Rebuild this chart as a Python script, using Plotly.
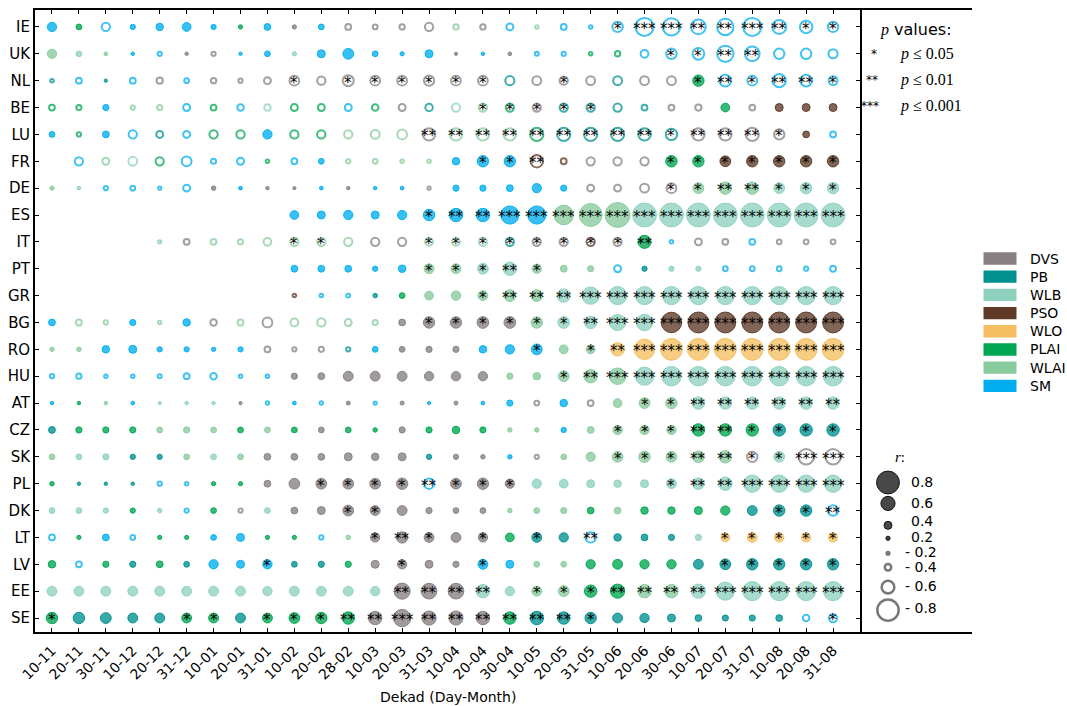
import plotly.graph_objects as go

# ---------------------------------------------------------------- data
countries = ["IE", "UK", "NL", "BE", "LU", "FR", "DE", "ES", "IT", "PT", "GR", "BG",
             "RO", "HU", "AT", "CZ", "SK", "PL", "DK", "LT", "LV", "EE", "SE"]

dekads = ["10-11", "20-11", "30-11", "10-12", "20-12", "31-12", "10-01", "20-01",
          "31-01", "10-02", "20-02", "28-02", "10-03", "20-03", "31-03", "10-04",
          "20-04", "30-04", "10-05", "20-05", "31-05", "10-06", "20-06", "30-06",
          "10-07", "20-07", "31-07", "10-08", "20-08", "31-08"]

variables = ["DVS", "PB", "WLB", "PSO", "WLO", "PLAI", "WLAI", "SM"]
variable_codes = "DPWSOLAM"
variable_colors = ["#877f82", "#00918f", "#8ed1bf", "#5e3a27",
                   "#f3bf60", "#00a651", "#88cb9c", "#00aeef"]

# strongest predictor per country and dekad ('.' = no data)
best_predictor = [
    "MLMMMMMLMD" "MDDDDADMAM" "MMMMMMMMMM",  # IE
    "AWAMMDDMMW" "MMMMMDMDMM" "LLMMMMMMMM",  # UK
    "PMPMDMDDDD" "DDDDDDDPDD" "DPDDLMMMMM",  # NL
    "LLMAAMLMWL" "LMLDPWALDP" "PPPDDLDSSS",  # BE
    "MLMMPMLLML" "LAAADAAALP" "PPPPDDDDSM",  # LU
    ".MAWLMMMLM" "MAAAAMMMSS" "DDDLLSSSSS",  # FR
    "AWMMMMDMDD" "MDMMDMMMMM" "DDDDAAAWWW",  # DE
    ".........M" "MMMMMMMMMA" "AAWWWWWWWW",  # ES
    "....ADAAAA" "AADDAAWPDD" "SDLMDDMDDD",  # IT
    ".........M" "MMMMAAWWAA" "AMPWWMMMMM",  # PT
    ".........S" "MMPLAAAAAW" "WWWWWWWWWW",  # GR
    "MAAMAMDADA" "AAADDDDDAW" "WWWSSSSSSS",  # BG
    "AAMMMMMMDD" "DPMDDDMMMA" "AOOOOOOOOO",  # RO
    "MMMMMMMMMD" "DDDDDDDAAA" "AAWWWWWWWW",  # HU
    "MLAMWWWDMM" "MDMDMDMMDM" "DAAAWWWWWW",  # AT
    "PLLLAAALAL" "DLLDLLLAAM" "AAAALLLPPP",  # CZ
    "AWWPPAWADD" "DDDDPDDMDA" "AAAAAADWDD",  # SK
    "LPPPMMLLDD" "DDDDMDDDWW" "WWWWWWWWWW",  # PL
    "WWWLWMLDWD" "DDDDDDDAAA" "LALLLLPPPM",  # DK
    "MLMMLLMMLL" "MADDDDDLPP" "MPPPWOOOOO",  # LT
    "LMLPLPMMMP" "PLDDDDMMAA" "LLLLPPPPPP",  # LV
    "WWWWWWWWWW" "WWWDDDWWAA" "LLAAWWWWWW",  # EE
    "LPPPPLLPLL" "LLDDDDDLPP" "PPPPPPPPMM",  # SE
]

# correlation coefficient r of the strongest predictor
corr_r = [
    [0.45, 0.3, -0.45, 0.27, 0.38, 0.43, 0.27, 0.2, 0.35, 0.2,
     0.3, -0.35, -0.3, -0.33, -0.45, -0.33, -0.33, -0.4, -0.22, -0.35,
     -0.22, -0.52, -0.72, -0.7, -0.64, -0.68, -0.72, -0.62, -0.58, -0.52],
    [0.45, 0.3, 0.15, 0.12, -0.27, 0.12, -0.27, 0.12, 0.3, 0.2,
     0.4, 0.5, 0.3, 0.2, 0.4, 0.08, 0.12, 0.15, -0.25, -0.27,
     -0.22, -0.33, -0.43, -0.52, -0.56, -0.68, -0.64, -0.52, -0.52, -0.48],
    [-0.22, -0.35, 0.08, -0.35, -0.37, -0.3, -0.33, -0.27, -0.4, -0.5,
     -0.45, -0.54, -0.5, -0.5, -0.52, -0.5, -0.5, -0.48, -0.47, -0.45,
     -0.47, -0.47, -0.47, -0.47, 0.52, -0.56, -0.5, -0.6, -0.56, -0.47],
    [-0.35, -0.32, 0.32, -0.27, -0.32, -0.4, -0.35, -0.38, -0.38, -0.4,
     -0.4, -0.4, -0.38, -0.4, -0.42, -0.45, -0.45, -0.45, -0.45, -0.45,
     -0.45, -0.45, -0.35, -0.35, -0.37, 0.43, -0.35, 0.4, 0.4, 0.4],
    [0.3, -0.27, 0.35, -0.45, -0.4, -0.4, -0.45, -0.45, 0.45, -0.45,
     -0.45, -0.45, -0.47, -0.5, -0.58, -0.58, -0.58, -0.58, -0.6, -0.6,
     -0.6, -0.6, -0.58, -0.55, -0.58, -0.58, -0.6, -0.52, 0.35, -0.35],
    [None, -0.45, -0.4, -0.47, -0.45, -0.5, -0.32, -0.4, -0.22, -0.35,
     0.3, -0.27, -0.3, -0.22, -0.22, 0.38, 0.52, 0.52, -0.58, -0.35,
     -0.45, -0.45, -0.45, 0.52, 0.52, 0.5, 0.52, 0.52, 0.52, 0.52],
    [0.2, 0.15, -0.27, -0.3, -0.2, -0.4, 0.22, 0.15, 0.12, 0.08,
     0.15, 0.12, 0.12, 0.15, -0.2, 0.32, 0.32, 0.35, 0.45, 0.32,
     -0.4, -0.4, -0.47, -0.5, 0.5, 0.55, 0.55, 0.5, 0.52, 0.52],
    [None, None, None, None, None, None, None, None, None, 0.43,
     0.4, 0.45, 0.4, 0.45, 0.52, 0.58, 0.58, 0.7, 0.7, 0.73,
     0.8, 0.84, 0.82, 0.82, 0.82, 0.82, 0.82, 0.82, 0.82, 0.82],
    [None, None, None, None, -0.2, -0.35, -0.35, -0.32, -0.43, -0.45,
     -0.45, -0.45, -0.45, -0.45, -0.43, -0.43, -0.45, -0.45, -0.45, -0.45,
     -0.45, -0.45, 0.57, -0.22, -0.4, -0.35, -0.35, -0.3, -0.3, -0.3],
    [None, None, None, None, None, None, None, None, None, 0.35,
     0.35, 0.35, 0.27, 0.38, 0.47, 0.47, 0.5, 0.58, 0.45, 0.35,
     0.32, -0.4, 0.27, 0.27, 0.27, -0.3, -0.3, -0.3, -0.27, -0.35],
    [None, None, None, None, None, None, None, None, None, -0.22,
     -0.22, -0.25, 0.22, 0.3, 0.43, 0.45, 0.47, 0.53, 0.53, 0.58,
     0.68, 0.7, 0.7, 0.7, 0.7, 0.7, 0.7, 0.7, 0.7, 0.7],
    [0.35, -0.35, -0.27, 0.32, -0.22, 0.38, -0.38, -0.35, -0.5, -0.43,
     -0.45, -0.4, -0.32, 0.35, 0.52, 0.52, 0.53, 0.53, 0.52, 0.53,
     0.55, 0.65, 0.66, 0.75, 0.76, 0.76, 0.76, 0.76, 0.76, 0.76],
    [0.2, 0.22, 0.38, 0.4, 0.27, 0.27, 0.2, 0.27, -0.35, -0.27,
     -0.32, -0.27, 0.3, 0.3, 0.32, 0.32, 0.38, 0.45, 0.5, 0.43,
     0.43, 0.58, 0.75, 0.78, 0.78, 0.78, 0.78, 0.78, 0.78, 0.78],
    [-0.27, -0.32, -0.22, -0.22, -0.25, -0.35, -0.38, -0.22, -0.22, 0.32,
     0.35, 0.47, 0.47, 0.47, 0.45, 0.45, 0.45, 0.32, 0.38, 0.5,
     0.58, 0.66, 0.7, 0.73, 0.73, 0.73, 0.73, 0.73, 0.73, 0.73],
    [0.12, 0.12, 0.12, 0.15, 0.08, 0.12, 0.12, 0.08, -0.22, 0.15,
     -0.22, 0.18, -0.2, 0.18, 0.08, 0.18, 0.15, 0.32, -0.3, 0.38,
     -0.35, 0.43, 0.5, 0.52, 0.55, 0.55, 0.55, 0.55, 0.55, 0.55],
    [0.35, 0.32, 0.32, 0.32, 0.3, 0.32, 0.3, 0.3, 0.3, 0.3,
     0.3, 0.3, 0.22, 0.32, 0.32, 0.38, 0.32, 0.22, 0.22, 0.27,
     0.35, 0.45, 0.45, 0.45, 0.55, 0.55, 0.55, 0.55, 0.55, 0.55],
    [0.3, 0.3, 0.32, 0.27, 0.27, 0.3, 0.3, 0.3, 0.35, 0.35,
     0.35, 0.4, 0.38, 0.4, 0.27, 0.27, 0.22, 0.22, -0.27, 0.3,
     0.45, 0.5, 0.52, 0.5, 0.53, 0.55, -0.52, 0.5, -0.66, -0.66],
    [0.22, 0.12, 0.12, 0.12, -0.27, -0.22, 0.2, 0.2, 0.35, 0.5,
     0.5, 0.5, 0.5, 0.52, -0.52, 0.5, 0.52, 0.45, 0.45, 0.43,
     0.4, 0.38, 0.4, 0.47, 0.53, 0.58, 0.68, 0.68, 0.68, 0.68],
    [0.3, 0.3, 0.27, 0.27, 0.22, -0.27, 0.3, -0.27, 0.3, 0.35,
     0.4, 0.5, 0.47, 0.47, 0.32, 0.3, 0.3, 0.22, 0.3, 0.32,
     0.35, 0.35, 0.38, 0.38, 0.4, 0.45, 0.47, 0.52, 0.52, -0.52],
    [-0.35, 0.2, 0.35, -0.3, 0.2, 0.2, 0.3, 0.4, 0.2, 0.2,
     -0.27, 0.22, 0.45, 0.52, 0.47, 0.47, 0.45, 0.43, 0.47, 0.45,
     -0.52, 0.38, 0.35, 0.32, 0.32, 0.43, 0.47, 0.45, 0.45, 0.45],
    [0.38, -0.35, 0.32, 0.32, 0.35, 0.3, 0.45, 0.4, 0.45, 0.3,
     0.32, 0.32, 0.4, 0.45, 0.4, 0.32, 0.47, 0.4, 0.3, 0.3,
     0.45, 0.47, 0.45, 0.45, 0.47, 0.5, 0.52, 0.52, 0.52, 0.52],
    [0.47, 0.47, 0.47, 0.47, 0.47, 0.47, 0.47, 0.47, 0.45, 0.47,
     0.47, 0.47, 0.45, 0.65, 0.64, 0.64, 0.58, 0.45, 0.47, 0.5,
     0.55, 0.6, 0.58, 0.58, 0.6, 0.7, 0.72, 0.72, 0.72, 0.72],
    [0.52, 0.52, 0.5, 0.47, 0.47, 0.47, 0.47, 0.47, 0.47, 0.5,
     0.52, 0.55, 0.58, 0.68, 0.6, 0.6, 0.58, 0.55, 0.58, 0.55,
     0.52, 0.47, 0.45, 0.4, 0.35, 0.32, 0.32, 0.35, -0.38, -0.45],
]

# significance: 0 none, 1 p<=0.05, 2 p<=0.01, 3 p<=0.001
p_level = [
    "0000000000" "0000000000" "0133223211",  # IE
    "0000000000" "0000000000" "0001122000",  # UK
    "0000000001" "0111111001" "0000121221",  # NL
    "0000000000" "0000001111" "1000000000",  # BE
    "0000000000" "0000222222" "2221222100",  # LU
    "0000000000" "0000001120" "0001111111",  # FR
    "0000000000" "0000000000" "0001122111",  # DE
    "0000000000" "0000122333" "3333333333",  # ES
    "0000000001" "1000111111" "1120000000",  # IT
    "0000000000" "0000111210" "0000000000",  # PT
    "0000000000" "0000001222" "3333333333",  # GR
    "0000000000" "0000111111" "2333333333",  # BG
    "0000000000" "0000000010" "1233333333",  # RO
    "0000000000" "0000000001" "2333333333",  # HU
    "0000000000" "0000000000" "0011222222",  # AT
    "0000000000" "0000000000" "0111221111",  # CZ
    "0000000000" "0000000000" "0111221133",  # SK
    "0000000000" "1111211100" "0001223333",  # PL
    "0000000000" "0110000000" "0000000112",  # DK
    "0000000000" "0012101010" "2000011111",  # LT
    "0000000010" "0001001000" "0000011111",  # LV
    "0000000000" "0002222011" "1222233333",  # EE
    "1000011011" "1223222222" "1000000001",  # SE
]

legend_r = [0.8, 0.6, 0.4, 0.2, -0.2, -0.4, -0.6, -0.8]
p_labels = ["<i>p</i> ≤ 0.05", "<i>p</i> ≤ 0.01", "<i>p</i> ≤ 0.001"]

# ---------------------------------------------------------------- geometry
W, H = 1067, 706
ML, MR, MT, MB = 35, 95, 8, 74
PLOT_W = W - ML - MR
PLOT_H = H - MT - MB
PANEL_X0 = 860  # left edge of side panel (px)
FONT = "DejaVu Sans"
SERIF = "Liberation Serif"


def diameter(r):
    return 4.0 + 31.0 * r * r


def rgba(hex_color, a):
    h = hex_color.lstrip("#")
    return "rgba(%d,%d,%d,%s)" % (int(h[0:2], 16), int(h[2:4], 16), int(h[4:6], 16), a)


def paper_x(px):
    return (px - ML) / PLOT_W


def paper_y(py):
    return (H - MB - py) / PLOT_H


fig = go.Figure()

# ---------------------------------------------------------------- bubbles
for code, name, col in zip(variable_codes, variables, variable_colors):
    xf, yf, sf, xo, yo, so = [], [], [], [], [], []
    for i, row in enumerate(best_predictor):
        for j, c in enumerate(row):
            if c != code:
                continue
            r = corr_r[i][j]
            d = diameter(r)
            if r > 0:
                xf.append(j); yf.append(i); sf.append(d - 1)
            else:
                xo.append(j); yo.append(i); so.append(d - 2)
    fig.add_trace(go.Scatter(
        x=xf, y=yf, mode="markers", name=name, showlegend=False, hoverinfo="skip",
        marker=dict(size=sf, opacity=1, color=rgba(col, 0.78),
                    line=dict(color=rgba(col, 0.95), width=1))))
    fig.add_trace(go.Scatter(
        x=xo, y=yo, mode="markers", name=name, showlegend=False, hoverinfo="skip",
        marker=dict(size=so, opacity=1, color="rgba(255,255,255,0)",
                    line=dict(color=rgba(col, 0.75), width=2))))

annotations = []

# significance stars
for i, row in enumerate(p_level):
    for j, ch in enumerate(row):
        n = int(ch)
        if n == 0:
            continue
        annotations.append(dict(
            x=j, y=i, xref="x", yref="y", text="*" * n, showarrow=False,
            xanchor="center", yanchor="middle", yshift=-2,
            font=dict(family=FONT, size=15, color="black")))

# ---------------------------------------------------------------- side panel: r sizes
size_y = [482, 503, 525, 538, 553, 567, 587, 610]
size_label_y = [482, 503, 521, 537, 552, 567, 586, 608]
pos_x, pos_y, pos_s, neg_x, neg_y, neg_s = [], [], [], [], [], []
for r, yy in zip(legend_r, size_y):
    if r > 0:
        pos_x.append(888); pos_y.append(yy); pos_s.append(diameter(r) - 1)
    else:
        neg_x.append(888); neg_y.append(yy); neg_s.append(diameter(r) - 2.5)
fig.add_trace(go.Scatter(
    x=pos_x, y=pos_y, xaxis="x2", yaxis="y3", mode="markers", showlegend=False,
    hoverinfo="skip",
    marker=dict(size=pos_s, opacity=1, color="rgba(40,40,40,0.85)",
                line=dict(color="#111111", width=1))))
fig.add_trace(go.Scatter(
    x=neg_x, y=neg_y, xaxis="x2", yaxis="y3", mode="markers", showlegend=False,
    hoverinfo="skip",
    marker=dict(size=neg_s, opacity=1, color="rgba(255,255,255,0)",
                line=dict(color="#777777", width=2.5))))

for r, yy in zip(legend_r, size_label_y):
    label = ("%.1f" % r) if r > 0 else "- %.1f" % abs(r)
    annotations.append(dict(
        x=909 if r > 0 else 903, y=yy, xref="x2", yref="y3", text=label, showarrow=False,
        xanchor="left", yanchor="middle", font=dict(family=FONT, size=14, color="black")))

annotations.append(dict(
    x=900, y=456, xref="x2", yref="y3", text="<i>r</i>:", showarrow=False,
    xanchor="center", yanchor="middle", font=dict(family=SERIF, size=15, color="black")))

# ---------------------------------------------------------------- side panel: p values
annotations.append(dict(
    x=916, y=28, xref="x2", yref="y3", showarrow=False, xanchor="center", yanchor="middle",
    text="<span style='font-family:%s;font-style:italic'>p</span> values:" % SERIF,
    font=dict(family=FONT, size=16, color="black")))
for k, (lab, yy, sx) in enumerate(zip(p_labels, [52, 78, 104], [874, 872, 870])):
    annotations.append(dict(
        x=sx, y=yy, xref="x2", yref="y3", text="*" * (k + 1), showarrow=False,
        xanchor="center", yanchor="middle", font=dict(family=FONT, size=12, color="black")))
    annotations.append(dict(
        x=898, y=yy, xref="x2", yref="y3", text=lab, showarrow=False,
        xanchor="left", yanchor="middle", font=dict(family=SERIF, size=16, color="black")))

# ---------------------------------------------------------------- colour legend
shapes = []
for k, (name, col) in enumerate(zip(variables, variable_colors)):
    cy = 257.3 + 18.25 * k
    shapes.append(dict(
        type="rect", xref="paper", yref="paper",
        x0=paper_x(983.5), x1=paper_x(1016.5),
        y0=paper_y(cy + 6.2), y1=paper_y(cy - 6.2),
        fillcolor=col, line=dict(width=0), layer="above"))
    annotations.append(dict(
        x=paper_x(1028), y=paper_y(cy), xref="paper", yref="paper", text=name,
        showarrow=False, xanchor="left", yanchor="middle",
        font=dict(family=FONT, size=14, color="black")))

# axis title
annotations.append(dict(
    x=paper_x(447.5), y=paper_y(697), xref="paper", yref="paper",
    text="Dekad (Day-Month)", showarrow=False, xanchor="center", yanchor="middle",
    font=dict(family=FONT, size=14, color="black")))

split = (PANEL_X0 - ML) / PLOT_W
n_rows = len(countries)
y_range = [n_rows - 1 + 0.52, -0.63]

fig.update_layout(
    width=W, height=H,
    margin=dict(l=ML, r=MR, t=MT, b=MB),
    paper_bgcolor="white", plot_bgcolor="white",
    font=dict(family=FONT, color="black"),
    xaxis=dict(
        domain=[0, split], range=[-0.63, len(dekads) - 0.0],
        tickmode="array", tickvals=list(range(len(dekads))), ticktext=dekads,
        tickangle=-45, ticks="inside", ticklen=4, tickcolor="black",
        ticklabelstandoff=3,
        showline=True, linecolor="black", linewidth=2, mirror="ticks",
        showgrid=False, zeroline=False,
        tickfont=dict(family=FONT, size=14, color="black")),
    yaxis=dict(
        domain=[0, 1], range=y_range,
        tickmode="array", tickvals=list(range(n_rows)), ticktext=countries,
        ticks="inside", ticklen=4, tickcolor="black",
        showline=True, linecolor="black", linewidth=2, mirror="ticks",
        showgrid=False, zeroline=False,
        tickfont=dict(family=FONT, size=15, color="black")),
    xaxis2=dict(
        domain=[split, 1], range=[PANEL_X0, W - MR], anchor="y2",
        showline=True, linecolor="black", linewidth=2, mirror=True,
        showticklabels=False, ticks="", showgrid=False, zeroline=False),
    yaxis2=dict(
        anchor="x2", side="right", range=y_range,
        tickmode="array", tickvals=list(range(n_rows)),
        ticks="inside", ticklen=4, tickcolor="black", showticklabels=False,
        showline=True, linecolor="black", linewidth=2, mirror=True,
        showgrid=False, zeroline=False),
    yaxis3=dict(anchor="x2", overlaying="y2", range=[H - MB, MT], visible=False),
    annotations=annotations,
    shapes=shapes,
)

fig.write_html("out.html")
